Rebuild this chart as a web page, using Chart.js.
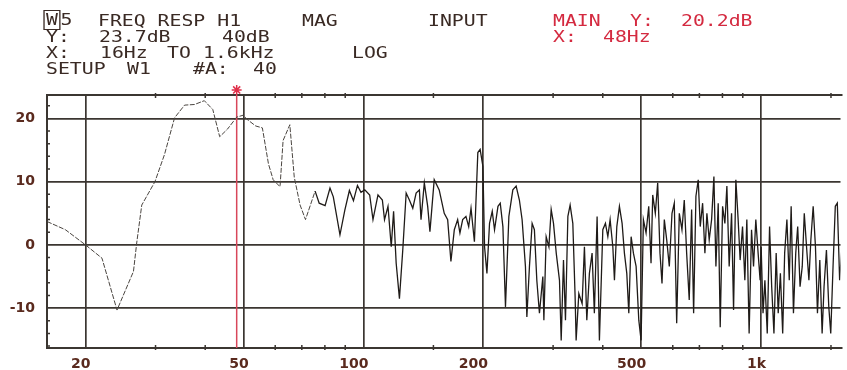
<!DOCTYPE html>
<html>
<head>
<meta charset="utf-8">
<script src="https://cdn.jsdelivr.net/npm/chart.js@4.4.0/dist/chart.umd.min.js"></script>
<style>
  body { margin: 0; background: #fff; }
  #wrap { position: relative; width: 847px; height: 370px; overflow: hidden; }
  #chart { position: absolute; left: 0; top: 0; }
  .hd {
    position: absolute; font-family: "DejaVu Sans Mono", monospace; font-size: 15px;
    line-height: 15px; color: #3a2a24; white-space: pre;
    transform: scaleX(1.32); transform-origin: 0 0;
  }
  .red { color: #d42a40; }
  .box { border: 1.5px solid #3a2a24; padding: 0 1px; margin-left: -2px; }
</style>
</head>
<body>
<div id="wrap">
  <canvas id="chart" width="847" height="370"></canvas>
  <span class="hd" style="left:46px;top:13px"><span class="box">W</span>5</span>
  <span class="hd" style="left:98px;top:14px">FREQ RESP H1</span>
  <span class="hd" style="left:302px;top:14px">MAG</span>
  <span class="hd" style="left:428px;top:14px">INPUT</span>
  <span class="hd red" style="left:553px;top:14px">MAIN</span>
  <span class="hd red" style="left:630px;top:14px">Y:</span>
  <span class="hd red" style="left:681px;top:14px">20.2dB</span>
  <span class="hd" style="left:46px;top:30px">Y:</span>
  <span class="hd" style="left:99px;top:30px">23.7dB</span>
  <span class="hd" style="left:222px;top:30px">40dB</span>
  <span class="hd red" style="left:553px;top:30px">X:</span>
  <span class="hd red" style="left:603px;top:30px">48Hz</span>
  <span class="hd" style="left:46px;top:46px">X:</span>
  <span class="hd" style="left:100px;top:46px">16Hz</span>
  <span class="hd" style="left:167px;top:46px">TO</span>
  <span class="hd" style="left:203px;top:46px">1.6kHz</span>
  <span class="hd" style="left:352px;top:46px">LOG</span>
  <span class="hd" style="left:46px;top:62px">SETUP</span>
  <span class="hd" style="left:127px;top:62px">W1</span>
  <span class="hd" style="left:193px;top:62px">#A:</span>
  <span class="hd" style="left:253px;top:62px">40</span>
</div>
<script>
const freqHz = [16.0, 17.8, 20.0, 22.0, 24.0, 26.4, 26.9, 27.7, 29.9, 31.6, 33.5, 35.5, 37.6, 39.8, 41.8, 43.5, 45.5, 48.0, 49.8, 51.1,
  53.6, 55.7, 57.7, 59.3, 61.7, 62.8, 65.3, 67.0, 69.3, 71.5, 75.6, 77.4, 80.1, 82.4, 84.0, 87.3, 89.8, 92.2, 94.4, 96.6,
  98.6, 100.8, 103.7, 105.7, 108.8, 111.6, 113.0, 115.3, 117.5, 119.1, 120.9, 123.2, 125.6, 128.1, 130.5, 133.1, 135.7, 138.3, 139.6, 142.3,
  145.1, 147.0, 150.7, 155.1, 159.7, 162.9, 166.0, 169.3, 172.6, 174.9, 177.7, 181.1, 184.0, 186.5, 190.2, 194.0, 196.6, 199.8, 201.7, 204.5,
  207.6, 210.9, 213.7, 218.0, 220.9, 224.3, 227.7, 232.2, 237.6, 242.2, 246.8, 250.7, 255.6, 257.7, 261.6, 265.7, 269.2, 273.0, 277.2, 282.7,
  284.4, 288.2, 292.8, 296.7, 300.7, 305.5, 311.3, 314.4, 318.6, 322.3, 326.8, 331.1, 336.3, 340.8, 342.8, 348.2, 354.9, 359.7, 364.7, 370.2,
  376.0, 381.0, 387.1, 392.3, 400.1, 406.2, 411.9, 417.4, 424.0, 428.0, 433.9, 440.5, 447.4, 453.4, 459.7, 465.1, 471.4, 477.7, 485.2, 492.8,
  499.4, 506.1, 514.0, 522.0, 529.0, 534.2, 542.3, 549.8, 557.2, 563.7, 571.3, 579.3, 588.1, 597.3, 605.3, 613.7, 623.1, 632.8, 641.3, 650.2,
  660.0, 669.2, 677.0, 686.1, 695.3, 703.4, 713.2, 722.7, 731.1, 740.9, 751.3, 761.4, 770.3, 780.6, 789.7, 800.7, 811.4, 820.8, 831.8, 843.4,
  853.2, 864.6, 876.1, 886.3, 898.7, 910.8, 921.4, 933.7, 946.8, 957.8, 970.6, 983.6, 995.0, 1001, 1012, 1023, 1037, 1051, 1064, 1078,
  1092, 1105, 1119, 1134, 1147, 1162, 1178, 1191, 1207, 1223, 1237, 1254, 1270, 1285, 1302, 1320, 1335, 1353, 1371, 1387,
  1406, 1425, 1441, 1461, 1481, 1498, 1518, 1538, 1556, 1577, 1600];
const magDb = [3.7, 2.4, 0.0, -2.1, -10.3, -4.2, 0.3, 6.3, 10.0, 14.3, 20.1, 22.1, 22.2, 22.8, 21.4, 17.1, 18.3, 20.2, 20.5, 19.8,
  18.8, 18.5, 12.8, 10.3, 9.2, 16.5, 19.0, 10.7, 6.3, 4.0, 8.5, 6.6, 6.2, 9.0, 7.6, 1.6, 5.5, 8.6, 7.0, 9.4,
  8.3, 8.7, 7.9, 4.0, 7.9, 7.1, 4.0, 6.1, -0.3, 5.3, -2.9, -8.5, -0.8, 8.2, 7.1, 5.8, 8.2, 8.7, 4.0, 9.8,
  6.1, 2.1, 10.3, 8.7, 5.0, 4.0, -2.6, 2.4, 4.0, 1.9, 4.0, 4.5, 2.9, 5.8, 0.5, 14.6, 15.1, 12.4, -0.3, -4.5,
  3.4, 5.3, 2.4, 6.1, 6.6, 2.9, -9.8, 4.5, 8.7, 9.3, 7.1, 4.0, -3.4, -11.4, -3.4, 3.4, 2.4, -5.6, -10.8, -5.0,
  -11.9, 1.3, -0.3, 5.6, 3.4, -1.3, -5.6, -15.1, -2.4, -11.9, 4.5, 6.3, 3.4, -8.2, -15.1, -7.7, -9.3, -0.3, -11.9, -4.5,
  -1.3, -10.8, 4.5, -15.1, 2.4, 3.4, 1.3, 4.0, -0.3, -5.6, 2.9, 6.1, 3.4, -1.3, -4.5, -10.8, 1.3, -1.3, -3.4, -11.9,
  -15.1, 4.0, 1.9, 6.1, -2.9, 7.9, 5.0, 9.8, -1.3, -6.1, 4.0, 0.8, -3.4, 5.0, 6.6, -12.4, 5.0, 2.4, 7.1, -1.3,
  -8.7, 5.6, -10.8, 7.7, 10.3, 2.9, 6.6, -1.3, 5.0, 0.8, 4.0, 10.8, -3.4, 6.6, -13.0, 6.1, 3.4, 9.3, -3.4, 5.0,
  -10.3, 10.3, 4.0, -2.4, 2.9, -5.6, 4.0, -14.0, 2.4, -3.4, 4.0, -1.3, -5.6, -0.3, -10.8, -5.6, -14.0, 2.9, -6.6, -14.0,
  -1.3, -10.8, -4.5, -14.0, -1.3, 4.0, -5.6, 6.1, -10.8, -1.3, 2.9, -6.6, -3.4, 5.0, -0.3, -5.6, 0.8, 6.1, -0.3, -10.8,
  -2.4, -14.0, -6.6, -0.8, -9.8, -14.0, -3.4, 6.1, 6.6, -5.6, 0.0];

// marker readout
const cursorHz = 48;
const cursorDb = 20.2;

// axes
const xMin = 16, xMax = 1585;
const yMin = -16.3, yMax = 23.7;
const xTickValues = [20, 50, 100, 200, 500, 1000];
const xTickLabels = ['20', '50', '100', '200', '500', '1k'];
const xMinorTicks = [30, 40, 60, 70, 80, 90, 150, 300, 400, 600, 700, 800, 900, 1500];
const yTickValues = [-10, 0, 10, 20];
const yMinorTicks = [-16, -14, -12, -8, -6, -4, -2, 2, 4, 6, 8, 12, 14, 16, 18, 22];

const gridColor = '#3b3631';
const labelColor = '#5a2a1e';

// frame + small tick marks along the edges
const framePlugin = {
  id: 'frame',
  beforeDatasetsDraw(chart) {
    const { ctx, chartArea: a, scales } = chart;
    ctx.save();
    ctx.strokeStyle = gridColor;
    ctx.lineWidth = 2;
    ctx.beginPath();
    ctx.moveTo(a.right + 2, a.top);
    ctx.lineTo(a.left, a.top);
    ctx.lineTo(a.left, a.bottom);
    ctx.lineTo(a.right + 2, a.bottom);
    ctx.stroke();
    ctx.lineWidth = 1.5;
    ctx.beginPath();
    xMinorTicks.forEach(v => {
      const px = scales.x.getPixelForValue(v);
      ctx.moveTo(px, a.top - 2); ctx.lineTo(px, a.top + 3);
      ctx.moveTo(px, a.bottom + 2); ctx.lineTo(px, a.bottom - 3);
    });
    yMinorTicks.forEach(v => {
      const py = scales.y.getPixelForValue(v);
      ctx.moveTo(a.left, py); ctx.lineTo(a.left + 3, py);
    });
    ctx.stroke();
    ctx.restore();
  }
};

const traceData = freqHz.map((f, i) => ({ x: f, y: magDb[i] }));
// the plotter pen looks lighter on the slow low-frequency part
const lowPart = ctx => ctx.p0.parsed.x < 75;

new Chart(document.getElementById('chart'), {
  type: 'line',
  data: {
    datasets: [
      {
        data: traceData,
        borderColor: '#1f1b18',
        borderWidth: 1.3,
        pointRadius: 0,
        tension: 0,
        segment: {
          borderColor: c => lowPart(c) ? '#4a4540' : undefined,
          borderWidth: c => lowPart(c) ? 1 : undefined,
          borderDash: c => lowPart(c) ? [5, 1.5] : undefined
        }
      },
      {
        data: [{ x: cursorHz, y: yMin }, { x: cursorHz, y: yMax }],
        borderColor: '#d8475a',
        borderWidth: 1.5,
        pointRadius: 0
      },
      {
        data: [{ x: cursorHz, y: yMax + 0.8 }],
        borderColor: '#e0304a',
        borderWidth: 1.5,
        pointStyle: 'star',
        pointRadius: 5,
        showLine: false,
        clip: false
      }
    ]
  },
  options: {
    responsive: false,
    animation: false,
    devicePixelRatio: 1,
    layout: { padding: { top: 95, left: 0, right: 0, bottom: 0 } },
    plugins: { legend: { display: false }, tooltip: { enabled: false } },
    scales: {
      x: {
        type: 'logarithmic',
        min: xMin,
        max: xMax,
        afterBuildTicks: s => { s.ticks = xTickValues.map(v => ({ value: v })); },
        afterFit: s => { s.height = 22; },
        border: { display: false },
        grid: { color: gridColor, lineWidth: 1.7, drawTicks: false },
        ticks: {
          color: labelColor,
          font: { family: 'DejaVu Sans', weight: 'bold', size: 14 },
          padding: 8,
          align: 'end',
          labelOffset: 5,
          maxRotation: 0,
          autoSkip: false,
          callback: (v) => xTickLabels[xTickValues.indexOf(v)]
        }
      },
      y: {
        min: yMin,
        max: yMax,
        afterBuildTicks: s => { s.ticks = yTickValues.map(v => ({ value: v })); },
        afterFit: s => { s.width = 47; },
        border: { display: false },
        grid: { color: gridColor, lineWidth: 1.7, drawTicks: false },
        ticks: {
          color: labelColor,
          font: { family: 'DejaVu Sans', weight: 'bold', size: 14 },
          padding: 12,
          callback: (v) => v === 0 ? '0' : String(v)
        }
      }
    }
  },
  plugins: [framePlugin]
});
</script>
</body>
</html>
